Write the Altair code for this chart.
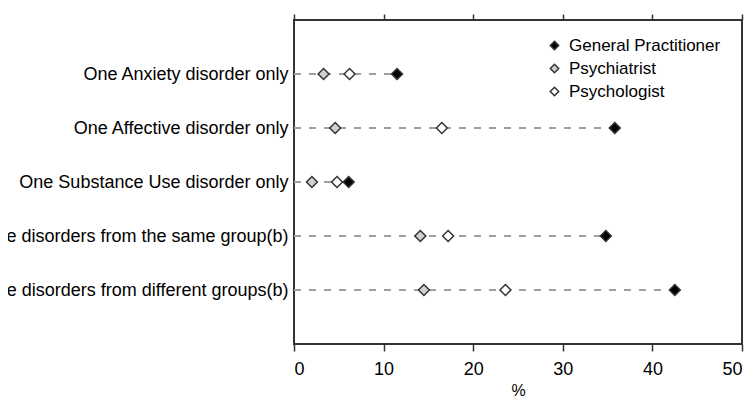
import altair as alt
import pandas as pd

categories = [
    "One Anxiety disorder only",
    "One Affective disorder only",
    "One Substance Use disorder only",
    "Two or more disorders from the same group(b)",
    "Two or more disorders from different groups(b)",
]
series = ["General Practitioner", "Psychiatrist", "Psychologist"]
gp = [11.5, 35.8, 6.1, 34.8, 42.5]
psychiatrist = [3.3, 4.6, 2.0, 14.1, 14.5]
psychologist = [6.2, 16.5, 4.8, 17.2, 23.6]
x_ticks = [0, 10, 20, 30, 40, 50]

rows = []
draw_order = {"Psychiatrist": 0, "Psychologist": 1, "General Practitioner": 2}
for s, vals in zip(series, [gp, psychiatrist, psychologist]):
    for c, v in zip(categories, vals):
        rows.append({"category": c, "series": s, "value": v, "ord": draw_order[s]})
df = pd.DataFrame(rows)
df_rule = pd.DataFrame({
    "category": categories,
    "start": [0] * len(categories),
    "end": [max(a, b, c) for a, b, c in zip(gp, psychiatrist, psychologist)],
})

FONT = "Liberation Sans"

y_enc = alt.Y(
    "category:N",
    sort=categories,
    scale=alt.Scale(type="point", padding=1),
    axis=alt.Axis(title=None, ticks=False, domain=False, labelFontSize=18,
                  labelPadding=6, labelLimit=0, labelColor="#000", grid=False,
                  labelFont=FONT),
)

rules = alt.Chart(df_rule).mark_rule(
    strokeDash=[7, 8], color="#a0a0a0", strokeWidth=2
).encode(
    y=y_enc,
    x=alt.X("start:Q", scale=alt.Scale(domain=[0, 50], nice=False),
            axis=alt.Axis(orient="top", values=x_ticks, labels=False, title=None,
                          tickSize=6, tickWidth=1.5, tickColor="#333",
                          domain=False, grid=False)),
    x2="end:Q",
)

points = alt.Chart(df).mark_point(
    size=120, strokeWidth=1.5, opacity=1, filled=True, shape="diamond",
    stroke="#333333"
).encode(
    y=y_enc,
    x=alt.X("value:Q", scale=alt.Scale(domain=[0, 50], nice=False),
            axis=alt.Axis(orient="bottom", values=x_ticks, title="%",
                          titleFontSize=16, titleFont=FONT, titleFontWeight="normal",
                          titleColor="#000", titlePadding=4,
                          labelFontSize=18, labelFont=FONT, labelColor="#000",
                          labelPadding=9, tickSize=7, tickWidth=1.5, tickColor="#333",
                          domain=False, grid=False)),
    fill=alt.Fill("series:N", sort=series,
                  scale=alt.Scale(domain=series, range=["#000000", "#d0d0d0", "#ffffff"]),
                  legend=alt.Legend(title=None, orient="none", legendX=252, legendY=17,
                                    labelFontSize=17, labelFont=FONT, labelColor="#000",
                                    symbolType="diamond", symbolSize=70,
                                    symbolStrokeWidth=1.5, symbolStrokeColor="#333333",
                                    symbolOpacity=1, rowPadding=5, labelOffset=6)),
    order=alt.Order("ord:Q"),
)

chart = alt.layer(rules, points).resolve_axis(x="independent").properties(
    width=448,
    height=324,
    autosize=alt.AutoSizeParams(type="none"),
    padding={"left": 286, "top": 12, "right": 6, "bottom": 70},
).configure(
    font=FONT,
    view=alt.ViewConfig(stroke="#333333", strokeWidth=2),
)

chart.save("out.html", embed_options={"renderer": "svg", "actions": False})
